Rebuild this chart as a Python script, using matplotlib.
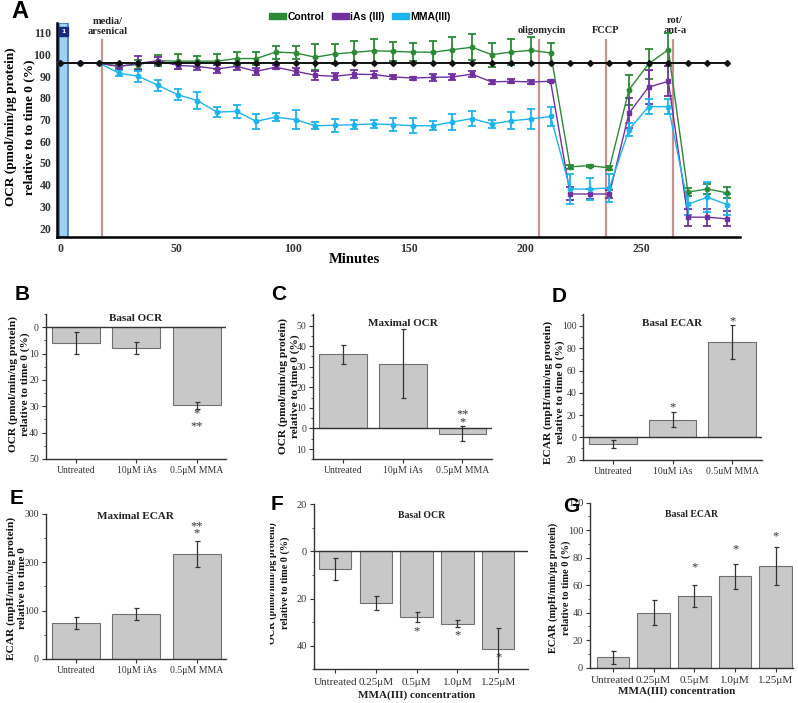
import matplotlib
matplotlib.use("Agg")
import matplotlib.pyplot as plt
from matplotlib.patches import Patch, Rectangle
from matplotlib.ticker import MultipleLocator

# ---------------- DATA ----------------
minutes = [0, 8.4, 16.9, 25.3, 33.7, 42.2, 50.6, 59.0, 67.4, 75.9, 84.3, 92.7,
           101.2, 109.6, 118.0, 126.5, 134.9, 143.3, 151.7, 160.2, 168.6, 177.0,
           185.5, 193.9, 202.3, 210.8, 219.2, 227.6, 236.1, 244.5, 252.9, 261.4,
           269.8, 278.2, 286.7]
baseline = [96, 96, 96, 96, 96, 96, 96, 96, 96, 96, 96, 96, 96, 96, 96, 96, 96, 96,
            96, 96, 96, 96, 96, 96, 96, 96, 96, 96, 96, 96, 96, 96, 96, 96, 96]
control = [96, 96, 96, 94.8, 95.4, 97.2, 97.0, 97.0, 97.0, 98.2, 98.2, 101.2,
           100.8, 98.8, 100.3, 101.1, 101.8, 101.5, 101.2, 101.1, 102.3, 103.4,
           100.0, 101.2, 102.0, 100.8, 48.2, 48.8, 47.7, 83.8, 95.7, 102.3,
           36.6, 38.0, 36.2]
control_err = [0, 0, 0, 1.0, 2.0, 2.5, 3.5, 2.5, 3.5, 3.0, 3.0, 3.0, 3.0, 6.0,
               4.5, 5.0, 5.5, 4.5, 4.0, 5.0, 6.0, 6.0, 5.5, 6.0, 6.0, 4.5,
               1.0, 0.5, 1.0, 7.0, 7.0, 7.7, 2.0, 2.5, 2.5]
ias = [96, 96, 96, 94.5, 96.0, 97.2, 95.0, 94.6, 93.4, 94.6, 92.3, 94.2, 92.3,
       90.5, 90.0, 91.0, 90.8, 89.7, 89.2, 89.5, 89.7, 91.0, 87.4, 87.7, 87.4,
       87.7, 35.7, 35.7, 35.7, 73.0, 85.0, 87.7, 25.0, 25.0, 24.2]
ias_err = [0, 0, 0, 1.3, 3.3, 1.5, 1.5, 1.5, 1.7, 1.5, 1.5, 1.0, 1.5, 2.0, 1.5,
           2.0, 1.5, 1.0, 0.7, 1.5, 1.5, 1.5, 1.0, 1.0, 1.0, 0.5, 3.0, 2.5, 2.0,
           7.0, 8.0, 7.0, 4.0, 4.0, 3.5]
mma = [96, 96, 96, 91.5, 90.0, 85.8, 81.5, 78.8, 73.5, 73.8, 69.2, 71.2, 70.0,
       67.2, 67.4, 67.7, 68.0, 67.7, 67.2, 67.2, 68.9, 70.5, 68.0, 69.5, 70.3,
       71.5, 38.0, 38.0, 38.5, 65.4, 76.0, 76.0, 31.0, 34.2, 30.8]
mma_err = [0, 0, 0, 1.2, 2.5, 2.5, 2.5, 4.0, 2.5, 3.0, 3.5, 2.0, 4.5, 1.5, 3.0,
           2.0, 1.8, 3.0, 3.5, 2.0, 3.5, 3.5, 2.0, 4.0, 4.5, 4.5, 7.0, 5.0, 6.5,
           3.0, 3.5, 3.5, 5.0, 7.0, 5.0]
injections = [18.0, 205.7, 234.6, 263.3]
injection_labels = ["media/\narsenical", "oligomycin", "FCCP", "rot/\nant-a"]
series_names = ["Control", "iAs (III)", "MMA(III)"]

cats3 = ["Untreated", "10\u03bcM iAs", "0.5\u03bcM MMA"]
cats3_u = ["Untreated", "10uM iAs", "0.5uM MMA"]
cats5 = ["Untreated", "0.25\u03bcM", "0.5\u03bcM", "1.0\u03bcM", "1.25\u03bcM"]

b_vals = [6.0, 8.0, 29.7];     b_err = [4.0, 2.2, 1.3]
c_vals = [36.0, 31.5, -2.5];   c_err = [4.8, 16.8, 3.6]
d_vals = [-5.7, 15.9, 85.6];   d_err = [3.7, 6.6, 15.0]
e_vals = [75.0, 93.0, 217.5];  e_err = [12.0, 12.0, 26.6]
f_vals = [7.5, 21.8, 27.9, 30.7, 41.4]; f_err = [4.6, 3.0, 2.2, 1.5, 9.0]
g_vals = [7.5, 40.0, 52.1, 66.4, 73.9]; g_err = [4.6, 8.9, 7.9, 8.8, 14.0]

# ---------------- STYLE ----------------
W, H = 798, 703
SERIF = "Liberation Serif"
SANS = "Liberation Sans"
GREEN = "#2a8a36"
PURPLE = "#7030a0"
CYAN = "#1cb4ee"
BAR = "#c8c8c8"
BAREDGE = "#707070"
VLINE = "#c99290"

fig = plt.figure(figsize=(W / 100, H / 100), dpi=100)


def rect(l, t, r, b):
    return [l / W, 1 - b / H, (r - l) / W, (b - t) / H]


def ftext(px, py, s, **kw):
    return fig.text(px / W, 1 - py / H, s, **kw)


# ---------------- PANEL A ----------------
ax = fig.add_axes(rect(57, 23, 740, 237))
ax.set_xlim(-1.3, 292.2)
ax.set_ylim(15.85, 114.6)
for s in ["top", "right"]:
    ax.spines[s].set_visible(False)
for s in ["left", "bottom"]:
    ax.spines[s].set_linewidth(1.8)
ax.tick_params(length=0, pad=4)
ax.set_xticks([0, 50, 100, 150, 200, 250])
ax.set_yticks([20, 30, 40, 50, 60, 70, 80, 90, 100, 110])
for lab in ax.get_xticklabels() + ax.get_yticklabels():
    lab.set_fontfamily(SERIF)
    lab.set_fontweight("bold")
    lab.set_fontsize(8.5)
    lab.set_color("#333333")

ax.axvspan(-0.3, 3.4, ymin=0, ymax=1, facecolor="#9fd0f2", edgecolor="#3d78c8",
           linewidth=1.2, zorder=1)
ax.text(1.6, 110.8, "1", fontsize=4.5, color="white", ha="center", va="center",
        fontweight="bold", zorder=6,
        bbox=dict(boxstyle="square,pad=0.35", facecolor="#1a2a80", edgecolor="#1a2a80"))

for xv in injections:
    ax.vlines(xv, 15.85, 107.3, color=VLINE, linewidth=1.6, zorder=1.5)
label_pos = [(20.4, 113.2), (207.0, 111.0), (234.6, 111.0), (264.3, 113.4)]
for (xx, yy), lab in zip(label_pos, injection_labels):
    ax.text(xx, yy, lab, ha="center", va="center", fontfamily=SERIF,
            fontweight="bold", fontsize=7.5, color="#222222", linespacing=1.15,
            clip_on=False)

ax.plot(minutes, baseline, color="#111111", linewidth=1.4, marker="D",
        markersize=3, zorder=4)
for vals, errs, col, mk in [(control, control_err, GREEN, "o"),
                            (ias, ias_err, PURPLE, "s"),
                            (mma, mma_err, CYAN, "o")]:
    ax.errorbar(minutes, vals, yerr=errs, color=col, linewidth=1.0, marker=mk,
                markersize=3.2, elinewidth=1.3, capsize=3, capthick=1.3, zorder=3)

ax.set_xlabel("Minutes", fontfamily=SERIF, fontweight="bold", fontsize=10.5,
              labelpad=1)
ax.xaxis.set_label_coords(0.435, -0.075)
ftext(20, 127, "OCR (pmol/min/\u03bcg protein)\nrelative to to time 0 (%)",
      rotation=90, ha="center", va="center", fontfamily=SERIF, fontweight="bold",
      fontsize=9.5, linespacing=1.7)

handles = [Patch(facecolor=c, edgecolor=c) for c in (GREEN, PURPLE, CYAN)]
fig.legend(handles, series_names, loc="center", bbox_to_anchor=(360 / W, 1 - 17 / H),
           ncol=3, frameon=False, handlelength=1.6, handleheight=0.55,
           handletextpad=0.15, columnspacing=0.7,
           prop=dict(family=SANS, weight="bold", size=7.5))

ftext(20, 12, "A", fontfamily=SANS, fontweight="bold", fontsize=17,
      ha="center", va="center")


# ---------------- BAR PANELS ----------------
def bar_panel(box, cats, vals, errs, xlim, ylim, minor, ticklabels,
              title, title_y, zero_line, stars, label, label_x, letter, letter_xy,
              tick_fs=7, title_fs=8, label_fs=8.2, xlabel=None, xlabel_y=None,
              barw=0.8, yticks=None, label_cy=None, xtick_fs=None, label_ls=1.35):
    a = fig.add_axes(rect(*box))
    x = list(range(len(cats)))
    a.bar(x, vals, width=barw, color=BAR, edgecolor=BAREDGE, linewidth=0.8, zorder=2)
    a.errorbar(x, vals, yerr=errs, fmt="none", ecolor="#333333", elinewidth=0.9,
               capsize=1.8, capthick=0.9, zorder=3)
    a.set_xlim(*xlim)
    a.set_ylim(*ylim)
    for s in ["top", "right"]:
        a.spines[s].set_visible(False)
    for s in ["left", "bottom"]:
        a.spines[s].set_linewidth(1.0)
        a.spines[s].set_color("#333333")
    if zero_line:
        a.axhline(0, color="#333333", linewidth=1.0, zorder=4)
    a.set_xticks(x)
    a.set_xticklabels(cats)
    a.set_yticks(yticks)
    a.set_yticklabels(ticklabels)
    a.yaxis.set_minor_locator(MultipleLocator(minor))
    a.tick_params(axis="both", which="major", length=3, width=0.8, pad=2,
                  labelsize=tick_fs, color="#333333", labelcolor="#333333")
    if xtick_fs:
        a.tick_params(axis="x", labelsize=xtick_fs, pad=3)
    a.tick_params(axis="y", which="minor", length=1.8, width=0.6, color="#333333")
    for lab in a.get_xticklabels() + a.get_yticklabels():
        lab.set_fontfamily(SERIF)
    a.text(title_y[0], title_y[1], title,
           transform=a.transAxes, ha="center", va="center", fontfamily=SERIF,
           fontweight="bold", fontsize=title_fs, color="#222222")
    for (sx, sy, st) in stars:
        a.text(sx, sy, st, ha="center", va="center", fontfamily=SERIF,
               fontsize=9, color="#333333", zorder=5)
    cy = label_cy if label_cy is not None else (box[1] + box[3]) / 2
    ftext(label_x, cy, label, rotation=90, ha="center", va="center",
          fontfamily=SERIF, fontweight="bold", fontsize=label_fs,
          linespacing=label_ls, color="#111111")
    ftext(letter_xy[0], letter_xy[1], letter, fontfamily=SANS, fontweight="bold",
          fontsize=15, ha="center", va="center", zorder=12)
    if xlabel:
        ftext(xlabel[0], xlabel_y, xlabel[1], ha="center", va="center",
              fontfamily=SERIF, fontweight="bold", fontsize=8, color="#222222")
    return a


# B
bar_panel((45.7, 314, 226, 459), cats3, b_vals, b_err, (-0.51, 2.49), (50, -5),
          5, ["0", "10", "20", "30", "40", "50"], "Basal OCR", (0.5, 0.97),
          True, [(2, 32.8, "*"), (2, 37.5, "**")],
          "OCR (pmol/min/ug protein)\nrelative to time 0 (%)", 19, "B", (22, 294),
          yticks=[0, 10, 20, 30, 40, 50], label_cy=384)
# C
bar_panel((313.3, 314.3, 491.7, 459.3), cats3, c_vals, c_err, (-0.5, 2.49), (-15, 55.5),
          5, ["50", "40", "30", "20", "10", "0", "10"], "Maximal OCR", (0.5, 0.94),
          True, [(2, 7.0, "**"), (2, 3.2, "*")],
          "OCR (pmol/min/ug protein)\nrelative to time 0 (%)", 289, "C", (279, 294),
          yticks=[50, 40, 30, 20, 10, 0, -10], label_cy=386)
# D
bar_panel((583.3, 314.3, 761.7, 459.6), cats3_u, d_vals, d_err, (-0.49, 2.49), (-20, 110.5),
          10, ["100", "80", "60", "40", "20", "0", "20"], "Basal ECAR", (0.5, 0.94),
          True, [(1, 26.5, "*"), (2, 104.0, "*")],
          "ECAR (mpH/min/ug protein)\nrelative to time 0 (%)", 554, "D", (559, 296),
          yticks=[100, 80, 60, 40, 20, 0, -20], label_cy=392)
# E
bar_panel((45.7, 513.5, 226, 659), cats3, e_vals, e_err, (-0.51, 2.49), (0, 301),
          50, ["0", "100", "200", "300"], "Maximal ECAR", (0.5, 0.98),
          False, [(2, 274.0, "**"), (2, 259.0, "*")],
          "ECAR (mpH/min/ug protein)\nrelative to time 0", 16.5, "E", (17, 499),
          yticks=[0, 100, 200, 300], label_cy=588)
# F
bar_panel((314, 504.3, 528.3, 669.3), cats5, f_vals, f_err, (-0.52, 4.74), (50, -20),
          10, ["40", "20", "0", "20"], "Basal OCR", (0.5, 0.93),
          True, [(2, 33.7, "*"), (3, 35.5, "*"), (4, 44.9, "*")],
          "OCR (pmol/min/\u03bcg protein)\nrelative to time 0 (%)", 279, "F", (277, 504),
          tick_fs=7.5, title_fs=7, label_fs=7.3, label_ls=1.45,
          xlabel=(416.7, "MMA(III) concentration"), xlabel_y=695,
          yticks=[40, 20, 0, -20], label_cy=583, xtick_fs=8)
# G
bar_panel((590, 502.7, 793.3, 667.7), cats5, g_vals, g_err, (-0.56, 4.43), (0, 120),
          10, ["0", "20", "40", "60", "80", "100", "120"], "Basal ECAR", (0.5, 0.93),
          False, [(2, 73.0, "*"), (3, 86.0, "*"), (4, 95.8, "*")],
          "ECAR (mpH/min/\u03bcg protein)\nrelative to time 0 (%)", 560, "G", (571, 506),
          tick_fs=7.5, title_fs=7, label_fs=7.5, label_ls=1.45,
          xlabel=(676.7, "MMA(III) concentration"), xlabel_y=691,
          yticks=[0, 20, 40, 60, 80, 100, 120], label_cy=588, xtick_fs=8)

# the reference's panel F label is cut at the panel border
fig.add_artist(Rectangle((250 / W, 0), (20 / W), 0.30, transform=fig.transFigure,
                         facecolor="white", edgecolor="none", zorder=11))

fig.savefig("out.png", dpi=100)
